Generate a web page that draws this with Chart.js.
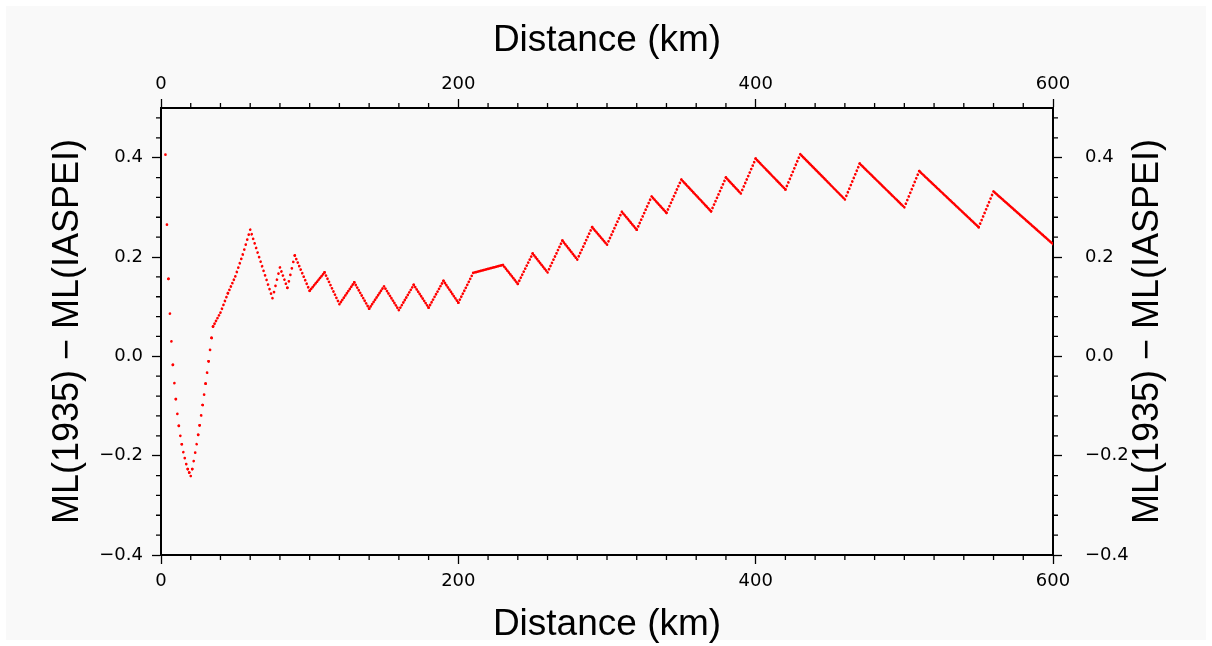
<!DOCTYPE html>
<html>
<head>
<meta charset="utf-8">
<title>ML(1935) - ML(IASPEI)</title>
<script src="https://cdn.jsdelivr.net/npm/chart.js@4"></script>
<style>
  html, body { margin: 0; padding: 0; background: #fff; }
</style>
</head>
<body>
<canvas id="myChart" width="1212" height="646"></canvas>
<script>
// distance (km) and ML(1935) - ML(IASPEI)
const distances = [
  3, 4, 5, 6, 7, 8, 9, 10, 11, 12, 13, 14, 15, 16, 17, 18, 19, 20,
  21, 22, 23, 24, 25, 26, 27, 28, 29, 30, 31, 32, 33, 34, 35,
  40, 45, 50, 55, 60, 75, 80, 85, 90,
  100, 110, 120, 130, 140, 150, 160, 170, 180, 190, 200,
  210, 220, 230, 240, 250, 260, 270, 280, 290, 300,
  310, 320, 330, 340, 350, 370, 380, 390, 400,
  420, 430, 460, 470, 500, 510, 550, 560, 600
];
const differences = [
  0.406, 0.265, 0.156, 0.086, 0.030, -0.017, -0.054, -0.086, -0.116, -0.140,
  -0.160, -0.177, -0.193, -0.205, -0.217, -0.227, -0.234, -0.241,
  -0.227, -0.211, -0.194, -0.177, -0.158, -0.139, -0.119, -0.098, -0.077,
  -0.055, -0.033, -0.010, 0.013, 0.037, 0.060,
  0.088, 0.127, 0.161, 0.205, 0.255, 0.117, 0.179, 0.138, 0.203,
  0.132, 0.169, 0.105, 0.149, 0.096, 0.141, 0.093, 0.144, 0.098, 0.152, 0.108,
  0.168, 0.176, 0.184, 0.146, 0.207, 0.169, 0.233, 0.195, 0.260, 0.225,
  0.291, 0.255, 0.322, 0.289, 0.356, 0.292, 0.360, 0.328, 0.398,
  0.336, 0.407, 0.316, 0.388, 0.300, 0.373, 0.260, 0.332, 0.226
];

const xTickValues = [0, 200, 400, 600];
const yTickValues = [-0.4, -0.2, 0, 0.2, 0.4];
const yTickLabels = ['\u22120.4', '\u22120.2', '0.0', '0.2', '0.4'];
const xTitle = 'Distance (km)';
const yTitle = 'ML(1935) \u2212 ML(IASPEI)';

const titleFont = { family: '"Liberation Sans", Arial, sans-serif', size: 37, lineHeight: 1 };
const tickFont = { family: '"DejaVu Sans", sans-serif', size: 18 };

// one dot per km along each segment, like the sampled curve
function dotsPerKm(ctx) {
  const dx = ctx.p1.x - ctx.p0.x;
  const dy = ctx.p1.y - ctx.p0.y;
  const steps = distances[ctx.p1DataIndex] - distances[ctx.p0DataIndex];
  const gap = Math.hypot(dx, dy) / steps;
  return [0.01, Math.max(gap - 0.01, 0.01)];
}

function axis(position, min, max, tickValues, labelFn, tickPad, size, title) {
  const horizontal = position === 'top' || position === 'bottom';
  return {
    type: 'linear',
    position: position,
    min: min,
    max: max,
    afterBuildTicks: s => { s.ticks = tickValues.map(v => ({ value: v })); },
    afterFit: s => { if (horizontal) s.height = size; else s.width = size; },
    ticks: {
      font: tickFont,
      color: '#000',
      padding: tickPad,
      maxRotation: 0,
      autoSkip: false,
      includeBounds: false,
      callback: labelFn
    },
    grid: {
      display: true,
      drawOnChartArea: false,
      drawTicks: true,
      tickLength: 9,
      tickWidth: 1.3,
      tickColor: '#000',
      color: '#000'
    },
    border: { display: true, color: '#000', width: 2 },
    title: title
  };
}

const xLabel = (v) => String(v);
const yLabel = (v, i) => yTickLabels[i];

// background panel, minor ticks and the right hand title
const frameExtras = {
  id: 'frameExtras',
  beforeDraw(chart) {
    const c = chart.ctx;
    c.save();
    c.fillStyle = '#f9f9f9';
    c.fillRect(6, 6, 1200, 634);
    c.restore();
  },
  afterDraw(chart) {
    const c = chart.ctx;
    const a = chart.chartArea;
    const sx = chart.scales.x;
    const sy = chart.scales.y;
    c.save();
    c.strokeStyle = '#000';
    c.lineWidth = 1.3;
    c.beginPath();
    for (let v = 20; v < 600; v += 20) {
      if (v % 200 === 0) continue;
      const px = sx.getPixelForValue(v);
      c.moveTo(px, a.top); c.lineTo(px, a.top - 5);
      c.moveTo(px, a.bottom); c.lineTo(px, a.bottom + 5);
    }
    for (let i = -9; i <= 12; i++) {
      if (i % 5 === 0) continue;
      const py = sy.getPixelForValue(i * 0.04);
      c.moveTo(a.left, py); c.lineTo(a.left - 5, py);
      c.moveTo(a.right, py); c.lineTo(a.right + 5, py);
    }
    c.stroke();

    c.font = '36px "Liberation Sans", Arial, sans-serif';
    c.fillStyle = '#000';
    c.textAlign = 'center';
    c.textBaseline = 'middle';
    c.translate(1148.5, (a.top + a.bottom) / 2);
    c.rotate(-Math.PI / 2);
    c.fillText(yTitle, 0, 0);
    c.restore();
  }
};

const ctx = document.getElementById('myChart');

new Chart(ctx, {
  type: 'line',
  data: {
    datasets: [{
      data: distances.map((d, i) => ({ x: d, y: differences[i] })),
      borderColor: '#ff0000',
      borderWidth: 2.7,
      borderCapStyle: 'round',
      pointRadius: 0,
      fill: false,
      tension: 0,
      segment: { borderDash: dotsPerKm }
    }]
  },
  options: {
    responsive: false,
    animation: false,
    events: [],
    layout: { padding: 0 },
    plugins: { legend: { display: false }, tooltip: { enabled: false } },
    scales: {
      x: axis('bottom', 0, 600, xTickValues, xLabel, 7, 91,
        { display: true, text: xTitle, color: '#000', font: titleFont, padding: { top: 0, bottom: 2.5 } }),
      x2: axis('top', 0, 600, xTickValues, xLabel, 4, 108,
        { display: true, text: xTitle, color: '#000', font: titleFont, padding: { top: 22, bottom: 0 } }),
      y: axis('left', -0.4, 0.5, yTickValues, yLabel, 9, 161,
        { display: true, text: yTitle, color: '#000', font: { family: titleFont.family, size: 36, lineHeight: 1 }, padding: { top: 50, bottom: 0 } }),
      y2: axis('right', -0.4, 0.5, yTickValues, yLabel, 23, 159, { display: false })
    }
  },
  plugins: [frameExtras]
});
</script>
</body>
</html>
